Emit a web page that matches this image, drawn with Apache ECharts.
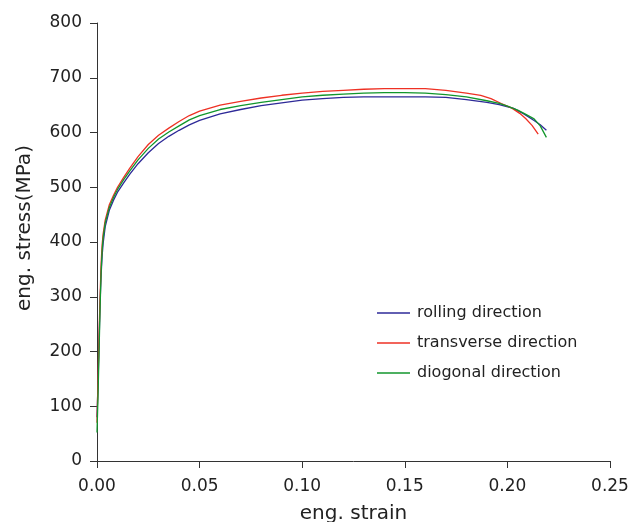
<!DOCTYPE html>
<html>
<head>
<meta charset="utf-8">
<script src="https://cdn.jsdelivr.net/npm/echarts@6/dist/echarts.min.js"></script>
<style>html,body{margin:0;padding:0;background:#fff}#c{width:632px;height:522px}</style>
</head>
<body>
<div id="c"></div>
<script>
var seriesNames = ['rolling direction', 'transverse direction', 'diogonal direction'];
var xTicks = [0, 0.05, 0.10, 0.15, 0.20, 0.25];
var yTicks = [0, 100, 200, 300, 400, 500, 600, 700, 800];

var rollingStrain = [0,0.0005,0.001,0.0015,0.002,0.0025,0.003,0.004,0.006,0.008,0.010,0.013,0.016,0.020,0.025,0.030,0.035,0.040,0.045,0.050,0.060,0.070,0.080,0.090,0.100,0.110,0.120,0.130,0.140,0.150,0.160,0.170,0.180,0.190,0.196,0.203,0.208,0.213,0.216,0.219];
var rollingStress = [80,140,215,290,340,375,398,428,458,476,491,508,524,543,563,580,593,604,614,622,634,642,649,654,659,662,664,665,665,665,665,664,660,655,651,644,634,622,614,604];

var transverseStrain = [0,0.0005,0.001,0.0015,0.002,0.0025,0.003,0.004,0.006,0.008,0.010,0.013,0.016,0.020,0.025,0.030,0.035,0.040,0.045,0.050,0.060,0.070,0.080,0.090,0.100,0.110,0.120,0.130,0.140,0.150,0.160,0.170,0.180,0.187,0.192,0.197,0.202,0.206,0.209,0.212,0.215];
var transverseStress = [70,150,230,300,360,395,415,440,468,485,500,518,535,556,578,595,608,620,631,639,650,657,663,668,672,675,677,679,680,680,680,677,672,668,662,653,645,635,625,613,597];

var diagonalStrain = [0,0.0005,0.001,0.0015,0.002,0.0025,0.003,0.004,0.006,0.008,0.010,0.013,0.016,0.020,0.025,0.030,0.035,0.040,0.045,0.050,0.060,0.070,0.080,0.090,0.100,0.110,0.120,0.130,0.140,0.150,0.160,0.170,0.180,0.190,0.196,0.200,0.205,0.209,0.213,0.216,0.219];
var diagonalStress = [52,120,200,280,345,385,408,435,463,481,496,514,530,550,571,588,601,612,623,631,642,649,655,660,665,668,670,672,673,673,672,669,665,658,653,648,641,633,625,612,591];

function pairs(xs, ys){ var out=[]; for (var i=0;i<xs.length;i++) out.push([xs[i], ys[i]]); return out; }

var FONT = 'DejaVu Sans';
var TXT = '#222';
var colors = ['#2e2a98', '#ee3124', '#12962c'];
var chart = echarts.init(document.getElementById('c'), null, {renderer:'canvas'});
chart.setOption({
  animation: false,
  backgroundColor: '#fff',
  grid: {left: 97, right: 22, top: 23, bottom: 61, containLabel: false, outerBoundsMode: 'none'},
  legend: {
    orient: 'vertical', left: 377, top: 305, padding: 0,
    itemWidth: 33, itemHeight: 1.3, itemGap: 14,
    data: seriesNames.map(function(n, i){ return {name: n, icon: 'rect', itemStyle: {color: colors[i]}}; }),
    textStyle: {fontFamily: FONT, fontSize: 16, color: TXT, padding: [0,0,0,2]}
  },
  xAxis: {
    type: 'value', min: xTicks[0], max: xTicks[xTicks.length-1], interval: 0.05,
    name: 'eng. strain', nameLocation: 'middle', nameGap: 43,
    nameTextStyle: {fontFamily: FONT, fontSize: 20, color: TXT},
    axisLine: {show: true, onZero: false, lineStyle: {color: '#333', width: 1}},
    axisTick: {show: true, inside: false, length: 7, lineStyle: {color: '#333'}},
    axisLabel: {margin: 17, fontFamily: FONT, fontSize: 17, color: TXT, formatter: function(v){ return v.toFixed(2); }},
    splitLine: {show: false}
  },
  yAxis: {
    type: 'value', min: yTicks[0], max: yTicks[yTicks.length-1], interval: 100,
    name: 'eng. stress(MPa)', nameLocation: 'middle', nameGap: 62, nameRotate: 90,
    nameTextStyle: {fontFamily: FONT, fontSize: 20, color: TXT, padding: [0,0,0,28]},
    axisLine: {show: true, onZero: false, lineStyle: {color: '#333', width: 1}},
    axisTick: {show: true, inside: false, length: 7, lineStyle: {color: '#333'}},
    axisLabel: {margin: 15, fontFamily: FONT, fontSize: 17, color: TXT},
    splitLine: {show: false}
  },
  series: [
    {name: seriesNames[0], type: 'line', data: pairs(rollingStrain, rollingStress), symbol: 'none', showSymbol: false, smooth: false,
     lineStyle: {color: colors[0], width: 1.3}, itemStyle: {color: colors[0]}},
    {name: seriesNames[1], type: 'line', data: pairs(transverseStrain, transverseStress), symbol: 'none', showSymbol: false, smooth: false,
     lineStyle: {color: colors[1], width: 1.3}, itemStyle: {color: colors[1]}},
    {name: seriesNames[2], type: 'line', data: pairs(diagonalStrain, diagonalStress), symbol: 'none', showSymbol: false, smooth: false,
     lineStyle: {color: colors[2], width: 1.3}, itemStyle: {color: colors[2]}}
  ]
});
</script>
</body>
</html>
